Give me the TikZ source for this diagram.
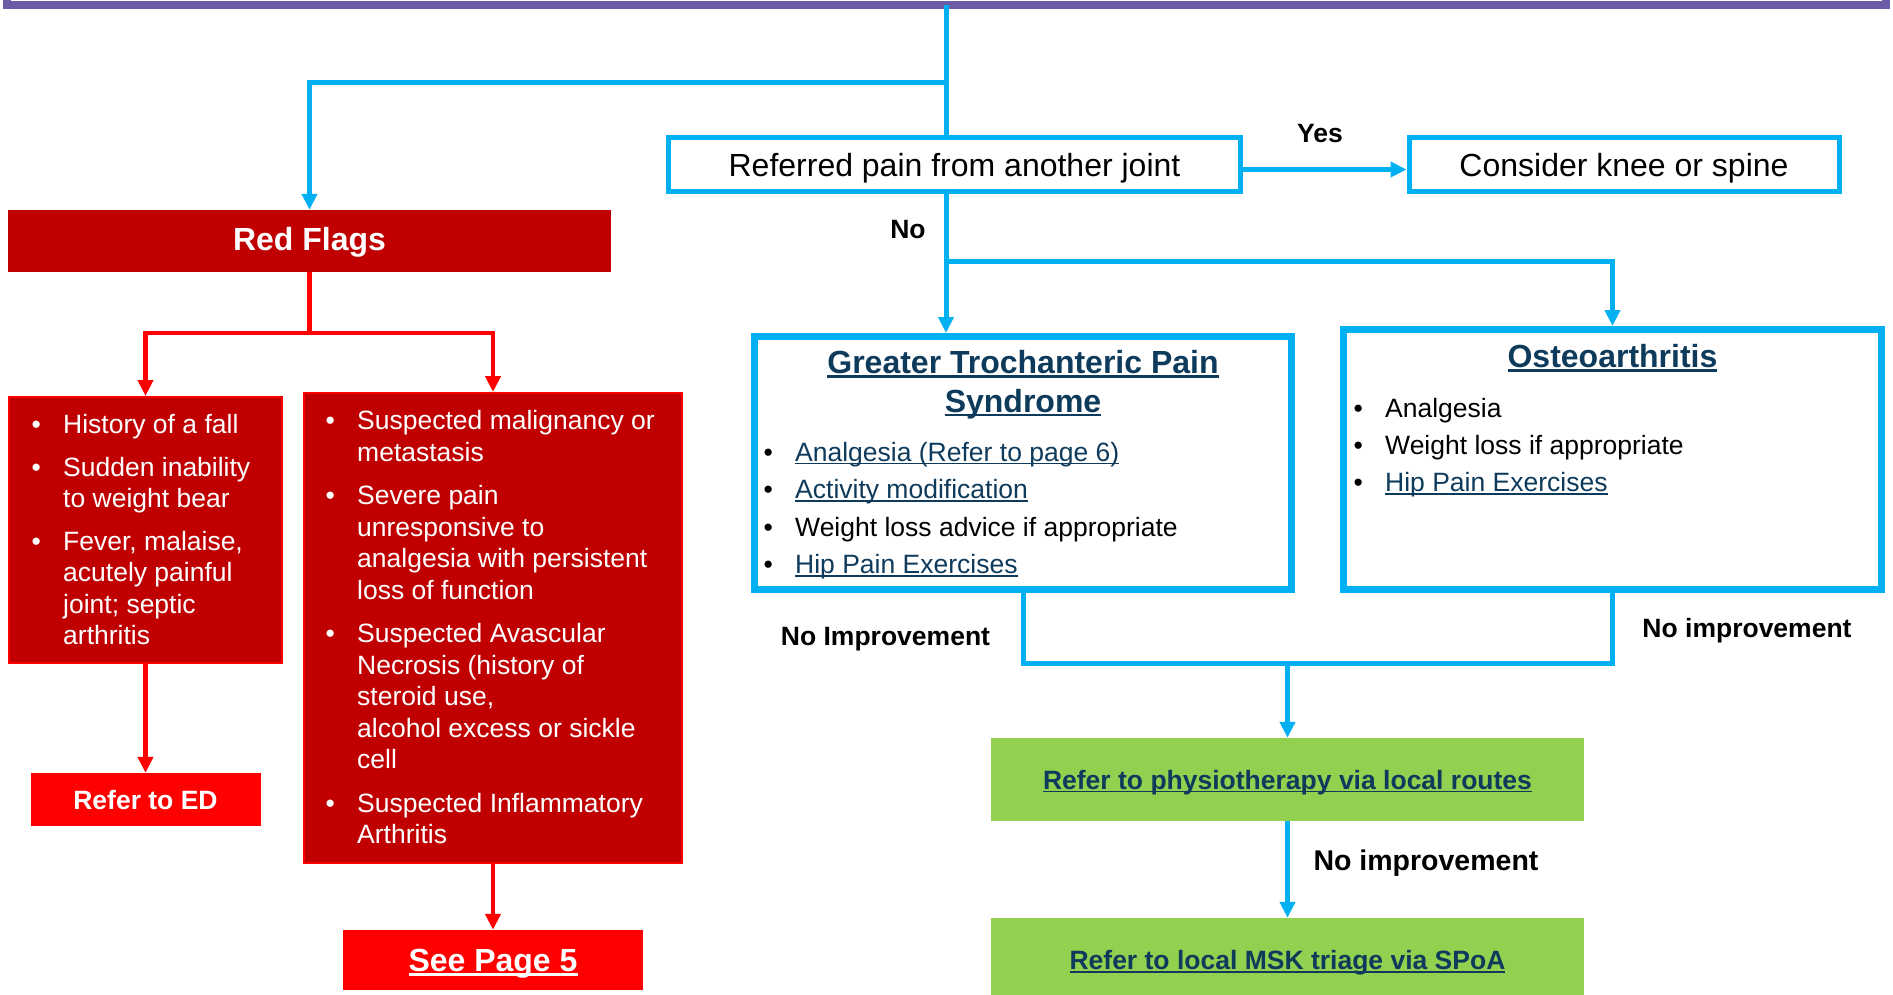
\documentclass[tikz,border=0pt]{standalone}
\usepackage{fontspec}
\setmainfont{Liberation Sans}
\usetikzlibrary{arrows.meta}
\definecolor{cy}{HTML}{00B0F0}
\definecolor{rd}{HTML}{C00000}
\definecolor{rb}{HTML}{FF0000}
\definecolor{gr}{HTML}{92D050}
\definecolor{lk}{HTML}{0E3B5C}
\definecolor{purp}{HTML}{6B5CA5}
\newcommand{\fA}{\fontsize{32}{38.6}\selectfont}
\newcommand{\fB}{\fontsize{26.5}{31.5}\selectfont}
\newcommand{\fC}{\fontsize{28.5}{34}\selectfont}
\newsavebox\ulbox
\newcommand{\ulk}[1]{\leavevmode\sbox\ulbox{#1}\rlap{\rule[-0.13em]{\wd\ulbox}{0.07em}}\usebox\ulbox}
\newcommand{\bitem}[1]{\par\hangindent=31.5pt\hangafter=1\noindent\makebox[31.5pt][l]{\textbullet}#1\par}
\newcommand{\lkt}[1]{{\color{lk}\ulk{#1}}}
\tikzset{
 cline/.style={draw=cy, line width=5pt},
 carrow/.style={cline, -{Triangle[length=16pt,width=15pt]}},
 rline/.style={draw=rb, line width=4.5pt},
 rarrow/.style={rline, -{Triangle[length=16pt,width=15pt]}},
 cbox/.style={draw=cy, line width=5pt, fill=white, inner sep=0pt, font=\fA, text height=23pt, text depth=0pt},
 tbox/.style={draw=cy, line width=7pt, fill=white, inner sep=0pt},
 rdbox/.style={fill=rd, draw=rb, line width=2pt, inner sep=0pt},
 rhead/.style={fill=rd, inner sep=0pt, text=white, font=\fA\bfseries, text height=23pt, text depth=5pt},
 rbtn/.style={fill=rb, inner sep=0pt, text=white, font=\fB\bfseries, text height=19pt, text depth=0pt},
 gbox/.style={fill=gr, inner sep=0pt, text=lk, font=\fB\bfseries, text height=19pt, text depth=0pt},
 lab/.style={inner sep=0pt, font=\fB\bfseries, text height=19pt, text depth=0pt},
 listn/.style={inner sep=0pt, anchor=base west, font=\fB},
}
\begin{document}
\begin{tikzpicture}[x=1pt,y=-1pt]
\useasboundingbox (0,0) rectangle (1893,994);
\clip (0,0) rectangle (1893,994);
\fill[white] (0,0) rectangle (1893,994);
% top bar
\node[draw=purp, line width=8pt, outer sep=0pt, minimum width=1879pt, minimum height=60pt, inner sep=0pt, anchor=south west] (topbar) at (7,4.5) {};
% boxes
\node[cbox, minimum width=572pt, minimum height=54pt] (ref) at (954.5,164.5) {Referred pain from another joint};
\node[cbox, minimum width=430pt, minimum height=54pt] (cons) at (1624,164.5) {Consider knee or spine};
\node[rhead, minimum width=603pt, minimum height=62pt] (rf) at (309.5,241) {Red Flags};
\node[rdbox, minimum width=273pt, minimum height=266pt] (lr) at (145.5,530) {};
\node[rdbox, minimum width=378pt, minimum height=470pt] (rr) at (493,628) {};
\node[rbtn, minimum width=230pt, minimum height=53pt] (ed) at (145.5,799.5) {Refer to ED};
\node[rbtn, font=\fA\bfseries, text height=23pt, minimum width=300pt, minimum height=60pt] (sp5) at (493,960) {\ulk{See Page 5}};
\node[tbox, minimum width=537pt, minimum height=253pt] (gtps) at (1023,463) {};
\node[tbox, minimum width=538pt, minimum height=260pt] (oa) at (1612.5,459.5) {};
\node[gbox, minimum width=593pt, minimum height=83pt] (phys) at (1287.5,779.5) {\ulk{Refer to physiotherapy via local routes}};
\node[gbox, minimum width=593pt, minimum height=84pt] (msk) at (1287.5,960) {\ulk{Refer to local MSK triage via SPoA}};
% box texts
\node[listn, text=white] (lrt) at (31.5,433.5) {\parbox[t]{600pt}{\fB
\bitem{History of a fall}\vspace{11pt}
\bitem{Sudden inability\newline to weight bear}\vspace{11pt}
\bitem{Fever, malaise,\newline acutely painful\newline joint; septic\newline arthritis}}};
\node[listn, text=white] (rrt) at (325.5,429.5) {\parbox[t]{600pt}{\fB
\bitem{Suspected malignancy or\newline metastasis}\vspace{12pt}
\bitem{Severe pain\newline unresponsive to\newline analgesia with persistent\newline loss of function}\vspace{12pt}
\bitem{Suspected Avascular\newline Necrosis (history of\newline steroid use,\newline alcohol excess or sickle\newline cell}\vspace{12pt}
\bitem{Suspected Inflammatory\newline Arthritis}}};
\node[inner sep=0pt, anchor=base, text=lk, font=\fA\bfseries] (gtpst) at (1023,373.5) {\parbox[t]{520pt}{\centering\fA\bfseries \ulk{Greater Trochanteric Pain}\\ \ulk{Syndrome}}};
\node[listn, text=black] (gtpsl) at (763.5,461) {\parbox[t]{520pt}{\fB
\bitem{\lkt{Analgesia (Refer to page 6)}}\vspace{6pt}
\bitem{\lkt{Activity modification}}\vspace{6pt}
\bitem{Weight loss advice if appropriate}\vspace{6pt}
\bitem{\lkt{Hip Pain Exercises}}}};
\node[inner sep=0pt, anchor=base, text=lk, font=\fA\bfseries] (oat) at (1612.5,367.5) {\ulk{Osteoarthritis}};
\node[listn, text=black] (oal) at (1353.5,417.5) {\parbox[t]{520pt}{\fB
\bitem{Analgesia}\vspace{5.5pt}
\bitem{Weight loss if appropriate}\vspace{5.5pt}
\bitem{\lkt{Hip Pain Exercises}}}};
% labels
\node[lab] (yes) at (1320,133) {Yes};
\node[lab] (no) at (908,229) {No};
\node[lab] (ni1) at (885.5,636) {No Improvement};
\node[lab] (ni2) at (1747,628) {No improvement};
\node[lab, font=\fC\bfseries, text height=20.5pt] (ni3) at (1426,860) {No improvement};
% cyan connectors
\coordinate (t1) at (946,82);
\coordinate (t2) at (946,261);
\coordinate (m1) at (1287.5,663);
\draw[cline] (topbar.south -| t1) -- (t1 |- ref.north);
\draw[carrow] (t1) -| (rf.north);
\draw[carrow] ([yshift=-5pt]ref.east) -- ([yshift=-5pt]cons.west);
\draw[cline] (ref.south -| t2) -- (t2);
\draw[carrow] (t2) -- (t2 |- gtps.north);
\draw[carrow] (t2) -| (oa.north);
\draw[cline] (gtps.south) -- (gtps.south |- m1) -- (oa.south |- m1) -- (oa.south);
\draw[carrow] (m1) -- (phys.north);
\draw[carrow] (phys.south) -- (msk.north);
% red connectors
\coordinate (r1) at (309.5,333);
\draw[rline] (rf.south) -- (r1);
\draw[rarrow] (r1) -| (lr.north);
\draw[rarrow] (r1) -| (rr.north);
\draw[rarrow] (lr.south) -- (ed.north);
\draw[rarrow] (rr.south) -- (sp5.north);
\end{tikzpicture}
\end{document}
